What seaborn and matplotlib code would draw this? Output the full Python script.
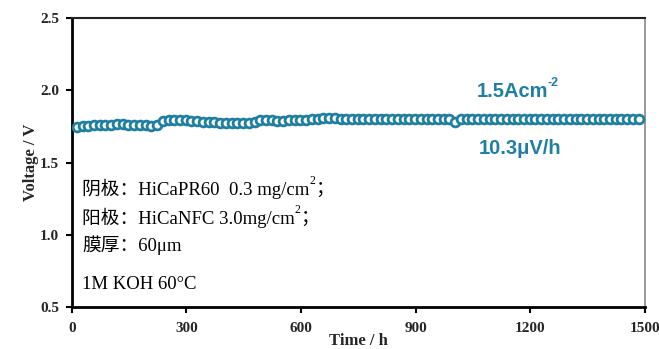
import numpy as np
import pandas as pd
import matplotlib
matplotlib.use("Agg")
import matplotlib.pyplot as plt
import seaborn as sns

# ---- data ----
time_h = [13 + 15 * i for i in range(99)]
voltage = [
    1.748, 1.752, 1.755, 1.758, 1.760, 1.762, 1.763, 1.764, 1.764, 1.763,
    1.762, 1.760, 1.758, 1.757, 1.758,
    1.785,
    1.795, 1.796, 1.795, 1.794,
    1.790, 1.787, 1.784, 1.781, 1.778, 1.776, 1.775, 1.775, 1.775, 1.776, 1.777,
    1.780,
    1.792, 1.793, 1.792, 1.791, 1.791, 1.792, 1.793, 1.795, 1.797,
    1.803, 1.805, 1.806, 1.806, 1.806, 1.805, 1.804, 1.803, 1.802, 1.801,
    1.800, 1.800, 1.800, 1.801, 1.802,
    1.802, 1.803, 1.803, 1.803, 1.802, 1.802, 1.802, 1.801, 1.800, 1.799,
    1.782,
    1.800, 1.801, 1.802, 1.802, 1.803, 1.803, 1.803, 1.802, 1.802, 1.802,
    1.803, 1.803, 1.804, 1.804, 1.804, 1.803, 1.803, 1.803, 1.804, 1.804,
    1.804, 1.805, 1.805, 1.805, 1.804, 1.804, 1.804, 1.805, 1.805, 1.805,
    1.805, 1.805,
]
x_ticks = [0, 300, 600, 900, 1200, 1500]
y_ticks = [0.5, 1.0, 1.5, 2.0, 2.5]
x_label = "Time / h"
y_label = "Voltage / V"
# (base text, superscript, trailing text)
ann_current = ("1.5Acm", "-2", "")
ann_rate = ("10.3μV/h", "", "")
info_lines = [
    ("阴极：HiCaPR60  0.3 mg/cm", "2", "；"),
    ("阳极：HiCaNFC 3.0mg/cm", "2", "；"),
    ("膜厚：60μm", "", ""),
    ("1M KOH 60°C", "", ""),
]

df = pd.DataFrame({"t": time_h, "v": voltage})

sns.set_theme(style="white")
plt.rcParams["font.family"] = ["Liberation Serif", "Noto Sans CJK SC", "DejaVu Sans"]

teal = "#1f7fa3"

fig = plt.figure(figsize=(6.59, 3.49), dpi=100)
ax = fig.add_axes([0.109, 0.120, 0.870, 0.828])

sns.scatterplot(data=df, x="t", y="v", ax=ax, marker="o", s=40,
                facecolor="white", edgecolor=teal, linewidth=2.0, zorder=3)

ax.set_xlim(0, 1500)
ax.set_ylim(0.5, 2.5)
ax.set_xticks(x_ticks)
ax.set_yticks(y_ticks)
ax.set_xticklabels([str(v) for v in x_ticks], fontweight="bold", fontsize=11)
ax.set_yticklabels([f"{v:.1f}" for v in y_ticks], fontweight="bold", fontsize=11)
ax.tick_params(axis="x", direction="out", length=4, width=1.5, color="black",
               bottom=True, pad=7)
ax.tick_params(axis="y", direction="out", length=4, width=1.5, color="black",
               left=True, pad=5)
ax.set_xlabel(x_label, fontweight="bold", fontsize=12, labelpad=-2)
ax.set_ylabel(y_label, fontweight="bold", fontsize=12, labelpad=1)

for side in ["left", "bottom"]:
    ax.spines[side].set_color("black")
    ax.spines[side].set_linewidth(2.0)
ax.spines["top"].set_color("#222222")
ax.spines["top"].set_linewidth(1.5)
ax.spines["right"].set_color("#888888")
ax.spines["right"].set_linewidth(1.2)


def rich_text(x, y, parts, ha, fontsize, color, family, weight="normal"):
    base, sup, tail = parts
    t1 = ax.text(x, y, base, transform=ax.transAxes, ha=ha, va="center",
                 fontsize=fontsize, color=color, family=family, fontweight=weight)
    if sup:
        t2 = ax.annotate(sup, xy=(1.0, 0.62), xycoords=t1, ha="left", va="bottom",
                         fontsize=fontsize * 0.62, color=color, family=family,
                         fontweight=weight)
        if tail:
            ax.annotate(tail, xy=(1.0, 0.5), xycoords=(t2, t1), ha="left",
                        va="center", fontsize=fontsize, color=color,
                        family=family, fontweight=weight)
    return t1


sans = ["Liberation Sans", "DejaVu Sans"]
serif = ["Liberation Serif", "Noto Sans CJK SC"]

rich_text(0.768, 0.747, ann_current, "center", 14.5, teal, sans, "bold")
rich_text(0.782, 0.55, ann_rate, "center", 14.5, teal, sans, "bold")

info_y = [0.408, 0.308, 0.215, 0.080]
for parts, yy in zip(info_lines, info_y):
    rich_text(0.018, yy, parts, "left", 13.5, "black", serif)

fig.savefig("out.png", dpi=100)
